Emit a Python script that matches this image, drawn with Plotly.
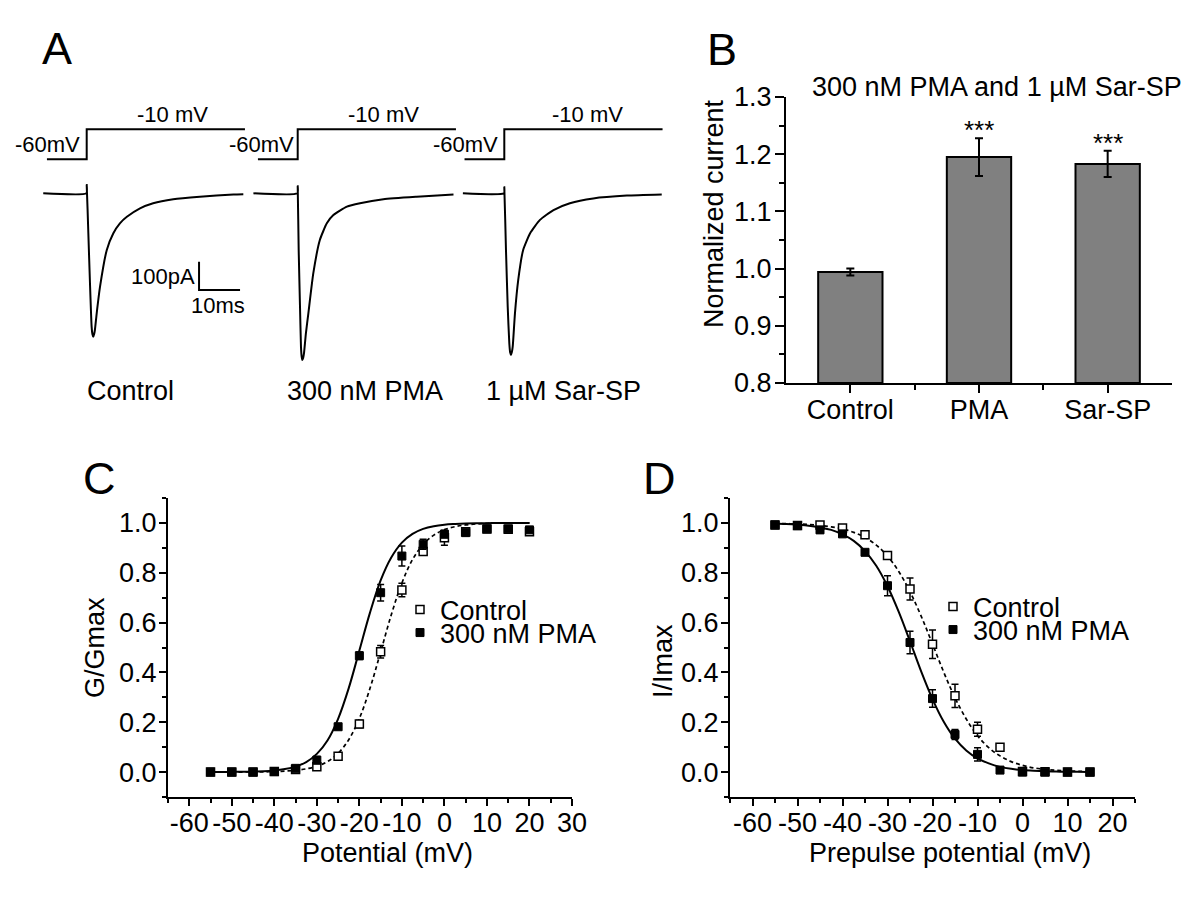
import plotly.graph_objects as go

W, H = 1200, 918
FONT = "Liberation Sans, Arial, Helvetica, sans-serif"

# ---------------- Panel A: current traces (ms after step, pA) ----------------
a_labels = ["Control", "300 nM PMA", "1 µM Sar-SP"]

ctrl_trace_t = [-10.6, -0.05, 0.0, 0.4, 0.8, 1.2, 1.4, 1.6, 1.8, 2.0, 2.44, 3.25, 4.9, 6.5, 8.1, 9.8, 13.0, 16.2, 21.1, 27.6, 35.8, 38.2]
ctrl_trace_i = [0, 0, 29, -141, -318, -471, -498, -507, -498, -483, -424, -330, -200, -141, -106, -83, -53, -35, -21, -12, -4, -3]

pma_trace_t = [-10.8, -0.05, 0.0, 0.24, 0.56, 0.8, 0.95, 1.13, 1.33, 1.54, 2.0, 2.6, 3.8, 5.4, 7.1, 8.7, 12.0, 15.2, 20.9, 29.0, 38.0]
pma_trace_i = [0, 0, 25, -200, -400, -542, -575, -589, -582, -565, -495, -424, -283, -165, -106, -77, -47, -35, -21, -12, -4]

sar_trace_t = [-10.1, -0.05, 0.0, 0.41, 0.83, 1.22, 1.42, 1.63, 1.83, 2.05, 2.6, 3.4, 4.6, 6.3, 8.7, 12.0, 16.0, 21.7, 29.9, 38.4]
sar_trace_i = [0, 0, 21, -200, -400, -530, -562, -571, -562, -542, -424, -306, -200, -141, -94, -59, -35, -18, -8, -4]

# voltage protocol (ms, mV)
proto_t = [-9.7, 0, 0, 38.6]
proto_v = [-60, -60, -10, -10]
proto_labels = ["-60mV", "-10 mV"]

# scale bar (10 ms, 100 pA)
scalebar_t = [27.4, 27.4, 37.4]
scalebar_i = [-241.7, -341.7, -341.7]
scalebar_labels = ["100pA", "10ms"]

# ---------------- Panel B ----------------
b_categories = ["Control", "PMA", "Sar-SP"]
b_values = [0.994, 1.195, 1.183]
b_errors = [0.006, 0.033, 0.023]
b_stars = ["", "***", "***"]
b_title = "300 nM PMA and 1 µM Sar-SP"
b_yticks = [0.8, 0.9, 1.0, 1.1, 1.2, 1.3]
b_yticktext = ["0.8", "0.9", "1.0", "1.1", "1.2", "1.3"]

# ---------------- Panel C: activation ----------------
c_voltage = [-55, -50, -45, -40, -35, -30, -25, -20, -15, -10, -5, 0, 5, 10, 15, 20]
c_control = [0.0, 0.0, 0.0, 0.002, 0.010, 0.021, 0.064, 0.193, 0.483, 0.731, 0.885, 0.940, 0.965, 0.976, 0.975, 0.965]
c_control_err = [0.003, 0.003, 0.003, 0.003, 0.006, 0.008, 0.008, 0.015, 0.025, 0.027, 0.015, 0.030, 0.010, 0.008, 0.008, 0.010]
c_pma = [0.0, 0.0, 0.0, 0.002, 0.015, 0.048, 0.182, 0.467, 0.720, 0.867, 0.914, 0.955, 0.961, 0.976, 0.976, 0.972]
c_pma_err = [0.003, 0.003, 0.003, 0.004, 0.008, 0.015, 0.010, 0.015, 0.033, 0.040, 0.020, 0.015, 0.012, 0.008, 0.008, 0.010]

c_fit_v = [-55, -52.5, -50, -47.5, -45, -42.5, -40, -37.5, -35, -32.5, -30, -27.5, -25, -22.5, -20, -17.5,
           -15, -12.5, -10, -7.5, -5, -2.5, 0, 2.5, 5, 7.5, 10, 12.5, 15, 17.5, 20]
c_fit_control = [0.000, 0.000, 0.000, 0.000, 0.001, 0.001, 0.002, 0.004, 0.007, 0.013, 0.023, 0.042, 0.075, 0.130,
                 0.215, 0.336, 0.482, 0.631, 0.759, 0.853, 0.914, 0.951, 0.973, 0.985, 0.992, 0.996, 0.998, 0.999,
                 0.999, 1.000, 1.000]
c_fit_pma = [0.000, 0.000, 0.001, 0.001, 0.002, 0.003, 0.006, 0.012, 0.022, 0.040, 0.073, 0.127, 0.214, 0.337,
             0.488, 0.640, 0.769, 0.861, 0.921, 0.956, 0.976, 0.987, 0.993, 0.996, 0.998, 0.999, 0.999, 1.000,
             1.000, 1.000, 1.000]

# ---------------- Panel D: inactivation ----------------
d_voltage = [-55, -50, -45, -40, -35, -30, -25, -20, -15, -10, -5, 0, 5, 10, 15]
d_control = [0.992, 0.990, 0.992, 0.980, 0.953, 0.869, 0.735, 0.513, 0.306, 0.172, 0.100, 0.002, 0.001, 0.0, 0.0]
d_control_err = [0.004, 0.004, 0.006, 0.006, 0.008, 0.012, 0.044, 0.057, 0.047, 0.028, 0.010, 0.003, 0.003, 0.003, 0.003]
d_pma = [0.992, 0.989, 0.972, 0.956, 0.882, 0.748, 0.520, 0.295, 0.151, 0.071, 0.008, 0.0, 0.0, 0.0, 0.0]
d_pma_err = [0.005, 0.006, 0.012, 0.010, 0.010, 0.040, 0.045, 0.035, 0.020, 0.027, 0.006, 0.003, 0.003, 0.003, 0.003]

d_fit_v = [-55, -52.5, -50, -47.5, -45, -42.5, -40, -37.5, -35, -32.5, -30, -27.5, -25, -22.5, -20, -17.5,
           -15, -12.5, -10, -7.5, -5, -2.5, 0, 2.5, 5, 7.5, 10, 12.5, 15]
d_fit_control = [0.998, 0.997, 0.996, 0.994, 0.990, 0.984, 0.976, 0.962, 0.942, 0.911, 0.867, 0.805, 0.724, 0.625,
                 0.514, 0.401, 0.298, 0.213, 0.146, 0.098, 0.065, 0.042, 0.027, 0.017, 0.011, 0.007, 0.005, 0.003,
                 0.002]
d_fit_pma = [0.998, 0.996, 0.993, 0.989, 0.982, 0.972, 0.954, 0.928, 0.887, 0.828, 0.746, 0.643, 0.525, 0.403,
             0.293, 0.202, 0.134, 0.087, 0.055, 0.035, 0.021, 0.013, 0.008, 0.005, 0.003, 0.002, 0.001, 0.001,
             0.000]

legend_names = ["Control", "300 nM PMA"]
cd_yticks = [0.0, 0.2, 0.4, 0.6, 0.8, 1.0]
cd_yticktext = ["0.0", "0.2", "0.4", "0.6", "0.8", "1.0"]
c_xticks = [-60, -50, -40, -30, -20, -10, 0, 10, 20, 30]
d_xticks = [-60, -50, -40, -30, -20, -10, 0, 10, 20]


def fx(px):
    return px / W


def fy(py):
    return 1 - py / H


fig = go.Figure()
BLACK = "black"
FS = 27

# ---- Panel A traces ----
a_times = [ctrl_trace_t, pma_trace_t, sar_trace_t]
a_currents = [ctrl_trace_i, pma_trace_i, sar_trace_i]
for k in range(3):
    xa = "x" if k == 0 else "x%d" % (k + 1)
    ycur = "y" if k == 0 else "y%d" % (2 * k + 1)
    yvolt = "y%d" % (2 * k + 2)
    fig.add_trace(go.Scatter(x=a_times[k], y=a_currents[k], mode="lines",
                             line=dict(color=BLACK, width=2, shape="spline", smoothing=0.5),
                             xaxis=xa, yaxis=ycur, showlegend=False, hoverinfo="skip"))
    fig.add_trace(go.Scatter(x=proto_t, y=proto_v, mode="lines",
                             line=dict(color=BLACK, width=2),
                             xaxis=xa, yaxis=yvolt, showlegend=False, hoverinfo="skip"))
fig.add_trace(go.Scatter(x=scalebar_t, y=scalebar_i, mode="lines",
                         line=dict(color=BLACK, width=2),
                         xaxis="x", yaxis="y", showlegend=False, hoverinfo="skip"))

# ---- Panel B ----
b_pos = list(range(1, len(b_categories) + 1))
fig.add_trace(go.Bar(x=b_pos, y=[v - 0.8 for v in b_values], base=0.8, width=0.5,
                     marker=dict(color="#808080", line=dict(color=BLACK, width=2)),
                     error_y=dict(type="data", array=b_errors, color=BLACK, thickness=2, width=4),
                     xaxis="x4", yaxis="y7", showlegend=False, hoverinfo="skip"))


# ---- Panels C and D ----
def add_iv(xa, ya, fit_v, fit_ctrl, fit_pma, v, ctrl, ctrl_err, pma, pma_err, leg_c, leg_p):
    fig.add_trace(go.Scatter(x=fit_v, y=fit_ctrl, mode="lines",
                             line=dict(color=BLACK, width=1.7, dash="4px,3px", shape="spline"),
                             xaxis=xa, yaxis=ya, showlegend=False, hoverinfo="skip"))
    fig.add_trace(go.Scatter(x=fit_v, y=fit_pma, mode="lines",
                             line=dict(color=BLACK, width=2, shape="spline"),
                             xaxis=xa, yaxis=ya, showlegend=False, hoverinfo="skip"))
    fig.add_trace(go.Scatter(x=v, y=ctrl, mode="markers", name=legend_names[0],
                             marker=dict(symbol="square", size=8, color="white",
                                         line=dict(color=BLACK, width=1.5)),
                             error_y=dict(type="data", array=ctrl_err, color=BLACK, thickness=1.5, width=3.5),
                             xaxis=xa, yaxis=ya, legend=leg_c, hoverinfo="skip"))
    fig.add_trace(go.Scatter(x=v, y=pma, mode="markers", name=legend_names[1],
                             marker=dict(symbol="square", size=8, color=BLACK,
                                         line=dict(color=BLACK, width=1)),
                             error_y=dict(type="data", array=pma_err, color=BLACK, thickness=1.5, width=3.5),
                             xaxis=xa, yaxis=ya, legend=leg_p, hoverinfo="skip"))


add_iv("x5", "y8", c_fit_v, c_fit_control, c_fit_pma, c_voltage, c_control, c_control_err,
       c_pma, c_pma_err, "legend", "legend2")
add_iv("x6", "y9", d_fit_v, d_fit_control, d_fit_pma, d_voltage, d_control, d_control_err,
       d_pma, d_pma_err, "legend3", "legend4")

# ---------------- Layout ----------------
hidden = dict(visible=False, showgrid=False, zeroline=False, fixedrange=True)
layout = dict(width=W, height=H, margin=dict(l=0, r=0, t=0, b=0, pad=0, autoexpand=False),
              paper_bgcolor="white", plot_bgcolor="rgba(0,0,0,0)",
              font=dict(family=FONT, size=FS, color=BLACK), showlegend=True)

a_cols = [(41.6, 246.6), (252.6, 457.6), (459.2, 664.2)]
for k, (l, r) in enumerate(a_cols):
    xname = "xaxis" if k == 0 else "xaxis%d" % (k + 1)
    ycur = "yaxis" if k == 0 else "yaxis%d" % (2 * k + 1)
    yvolt = "yaxis%d" % (2 * k + 2)
    anchor_x = "x" if k == 0 else "x%d" % (k + 1)
    anchor_y = "y" if k == 0 else "y%d" % (2 * k + 1)
    layout[xname] = dict(hidden, domain=[fx(l), fx(r)], range=[-11, 39], anchor=anchor_y)
    layout[ycur] = dict(hidden, domain=[fy(365), fy(175)], range=[-606.7, 64.7], anchor=anchor_x)
    layout[yvolt] = dict(hidden, domain=[fy(170), fy(120)], range=[-77.8, 5.5], anchor=anchor_x)

axis_common = dict(showline=True, linewidth=2, linecolor=BLACK, showgrid=False, zeroline=False,
                   ticks="outside", tickwidth=2, tickcolor=BLACK, fixedrange=True, automargin=False,
                   tickfont=dict(family=FONT, size=FS, color=BLACK))

layout["xaxis4"] = dict(axis_common, domain=[fx(786), fx(1172)], range=[0.5, 3.5], anchor="y7",
                        tickmode="array", tickvals=b_pos, ticktext=b_categories, ticklen=8,
                        ticklabelstandoff=-6,
                        minor=dict(tickmode="array", tickvals=[1.5, 2.5], ticks="outside", ticklen=5,
                                   tickwidth=2, tickcolor=BLACK))
layout["yaxis7"] = dict(axis_common, domain=[fy(383), fy(97)], range=[0.8, 1.3], anchor="x4",
                        tickmode="array", tickvals=b_yticks, ticktext=b_yticktext, ticklen=9,
                        ticklabelstandoff=-2,
                        minor=dict(tick0=0.8, dtick=0.05, ticks="outside", ticklen=5, tickwidth=2,
                                   tickcolor=BLACK))

for xname, yname, xa, ya, dom, rng, xt in [
        ("xaxis5", "yaxis8", "x5", "y8", (168, 572), [-65, 30], c_xticks),
        ("xaxis6", "yaxis9", "x6", "y9", (730, 1135), [-65, 25], d_xticks)]:
    layout[xname] = dict(axis_common, domain=[fx(dom[0]), fx(dom[1])], range=rng, anchor=ya,
                         tickmode="array", tickvals=xt, ticktext=[str(t) for t in xt], ticklen=7,
                         ticklabelstandoff=-6,
                         minor=dict(tick0=-65, dtick=5, ticks="outside", ticklen=4, tickwidth=2,
                                    tickcolor=BLACK))
    layout[yname] = dict(axis_common, domain=[fy(797), fy(498)], range=[-0.1, 1.1], anchor=xa,
                         tickmode="array", tickvals=cd_yticks, ticktext=cd_yticktext, ticklen=7,
                         ticklabelstandoff=-3,
                         minor=dict(tick0=-0.1, dtick=0.1, ticks="outside", ticklen=4, tickwidth=2,
                                    tickcolor=BLACK))

leg_common = dict(xanchor="left", yanchor="middle", bgcolor="rgba(0,0,0,0)", borderwidth=0,
                  font=dict(family=FONT, size=FS, color=BLACK), itemclick=False, itemdoubleclick=False)
layout["legend"] = dict(leg_common, x=fx(400), y=fy(610))
layout["legend2"] = dict(leg_common, x=fx(400), y=fy(633))
layout["legend3"] = dict(leg_common, x=fx(933), y=fy(607))
layout["legend4"] = dict(leg_common, x=fx(933), y=fy(630))

ann = []


def txt(text, px, py, size=FS, xanchor="center", angle=0, yanchor="middle"):
    ann.append(dict(text=text, x=fx(px), y=fy(py), xref="paper", yref="paper", showarrow=False,
                    xanchor=xanchor, yanchor=yanchor, textangle=angle,
                    font=dict(family=FONT, size=size, color=BLACK)))


# panel letters
for letter, px, py in [("A", 57, 48), ("B", 722, 50), ("C", 99, 479), ("D", 659, 479)]:
    txt(letter, px, py, size=45)

# panel A texts
for k, (r60, c10) in enumerate([(82, 172), (296, 383), (500, 587)]):
    txt(proto_labels[0], r60, 145, size=22, xanchor="right")
    txt(proto_labels[1], c10, 115, size=22)
for label, cx in zip(a_labels, [130, 365, 563]):
    txt(label, cx, 391)
txt(scalebar_labels[0], 197, 276, size=22, xanchor="right")
txt(scalebar_labels[1], 218, 305, size=22)

# panel B texts
txt(b_title, 997, 87)
txt("Normalized current", 714, 214, angle=-90)
for p, v, e, s in zip(b_pos, b_values, b_errors, b_stars):
    if s:
        ann.append(dict(text=s, x=p, y=v + e, xref="x4", yref="y7", showarrow=False,
                        xanchor="center", yanchor="middle", yshift=8,
                        font=dict(family=FONT, size=26, color=BLACK)))

# panel C / D axis titles
txt("G/Gmax", 95, 648, angle=-90)
txt("Potential (mV)", 388, 853)
txt("I/Imax", 663, 661, angle=-90)
txt("Prepulse potential (mV)", 950, 853)

layout["annotations"] = ann
fig.update_layout(**layout)
fig.write_html("out.html", config={"displayModeBar": False, "staticPlot": True},
               post_script="document.body.style.margin='0px';")
